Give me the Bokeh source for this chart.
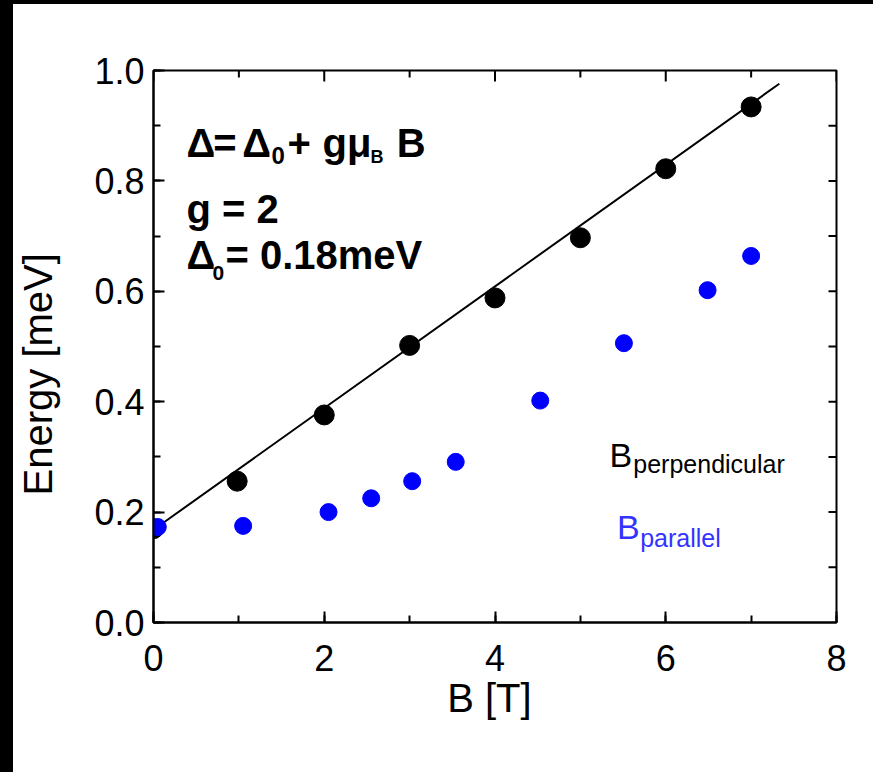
import math
from bokeh.plotting import figure
from bokeh.models import Label, SingleIntervalTicker, Range1d, Spacer, NumeralTickFormatter
from bokeh.layouts import column, row
from bokeh.embed import file_html
from bokeh.resources import INLINE

# ---- data ----
b_perp = [0.0, 0.98, 2.0, 3.0, 4.0, 5.0, 6.0, 7.0]
e_perp = [0.170, 0.256, 0.376, 0.502, 0.588, 0.697, 0.822, 0.934]
b_par = [0.05, 1.05, 2.05, 2.55, 3.03, 3.54, 4.53, 5.51, 6.49, 7.0]
e_par = [0.173, 0.175, 0.200, 0.225, 0.256, 0.291, 0.402, 0.506, 0.602, 0.664]
fit_b = [0.0, 7.33]
fit_e = [0.168, 0.976]
x_major_ticks = [0, 2, 4, 6, 8]
x_minor_ticks = [1, 3, 5, 7]
y_right_ticks = [0.1, 0.2, 0.3, 0.4, 0.5, 0.6, 0.7, 0.8, 0.9]

FONT = "Liberation Sans"
NB = "\u00a0"

p = figure(width=860, height=768, output_backend="svg", toolbar_location=None,
           x_range=Range1d(0, 8), y_range=Range1d(0, 1),
           min_border_left=140, min_border_right=37, min_border_top=66, min_border_bottom=150,
           x_axis_label="B [T]" + NB, y_axis_label="Energy [meV]" + NB * 5)
p.grid.visible = False
p.outline_line_color = "black"
p.outline_line_width = 2
p.background_fill_color = "white"
p.border_fill_color = "white"

for ax, ticker in ((p.xaxis[0], SingleIntervalTicker(interval=2, num_minor_ticks=2)),
                   (p.yaxis[0], SingleIntervalTicker(interval=0.2, num_minor_ticks=2))):
    ax.ticker = ticker
    ax.axis_line_width = 2
    ax.axis_line_color = "black"
    ax.major_tick_line_width = 2
    ax.minor_tick_line_width = 2
    ax.major_tick_in = 11
    ax.major_tick_out = 0
    ax.minor_tick_in = 7
    ax.minor_tick_out = 0
    ax.major_label_text_font = FONT
    ax.major_label_text_font_size = "36px"
    ax.major_label_text_color = "black"
    ax.axis_label_text_font = FONT
    ax.axis_label_text_font_style = "normal"
    ax.axis_label_text_font_size = "40px"
    ax.axis_label_text_color = "black"
p.yaxis[0].formatter = NumeralTickFormatter(format="0.0")
p.xaxis[0].major_label_standoff = 22
p.yaxis[0].major_label_standoff = 9
p.xaxis[0].axis_label_standoff = 2
p.yaxis[0].axis_label_standoff = 31

# ticks on the top and right frame edges (inward)
p.scatter(x_major_ticks, [1.0] * len(x_major_ticks), marker="dash", angle=math.pi / 2,
          size=22, line_color="black", line_width=2)
p.scatter(x_minor_ticks, [1.0] * len(x_minor_ticks), marker="dash", angle=math.pi / 2,
          size=14, line_color="black", line_width=2)
p.scatter([8.0] * len(y_right_ticks), y_right_ticks, marker="dash",
          size=16, line_color="black", line_width=2)

# fit line and points
p.line(fit_b, fit_e, line_color="black", line_width=2)
p.scatter(b_perp, e_perp, size=20, color="black", marker="circle")
p.scatter(b_par, e_par, size=17, color="#0000ff", marker="circle")

DY = 0.024  # baseline correction

def lab(x, y, text, size, color="black", bold=True):
    p.add_layout(Label(x=x, y=y + DY, text=text, text_font=FONT, text_font_size=size,
                       text_font_style="bold" if bold else "normal", text_color=color,
                       text_align="left", text_baseline="alphabetic"))

# formula block
lab(0.386, 0.844, "\u0394", "40px")
lab(0.700, 0.844, "=", "40px")
lab(1.040, 0.844, "\u0394", "40px")
lab(1.382, 0.822, "0", "24px")
lab(1.569, 0.844, "+", "40px")
lab(1.979, 0.844, "g\u03bc", "40px")
lab(2.541, 0.819, "B", "18px")
lab(2.850, 0.844, "B", "40px")
lab(0.386, 0.726, "g = 2", "40px")
lab(0.386, 0.641, "\u0394", "40px")
lab(0.691, 0.610, "0", "21px")
lab(0.843, 0.641, "= 0.18meV", "40px")

# series labels
lab(5.34, 0.279, "B", "34px", bold=False)
lab(5.62, 0.263, "perpendicular", "25px", bold=False)
lab(5.43, 0.149, "B", "34px", color="#3333ff", bold=False)
lab(5.70, 0.129, "parallel", "25px", color="#3333ff", bold=False)

top_bar = Spacer(width=873, height=4, styles={"background-color": "black"})
left_bar = Spacer(width=13, height=768, styles={"background-color": "black"})
layout = column(top_bar, row(left_bar, p, spacing=0), spacing=0)

open("out.html", "w").write(file_html(layout, INLINE))
